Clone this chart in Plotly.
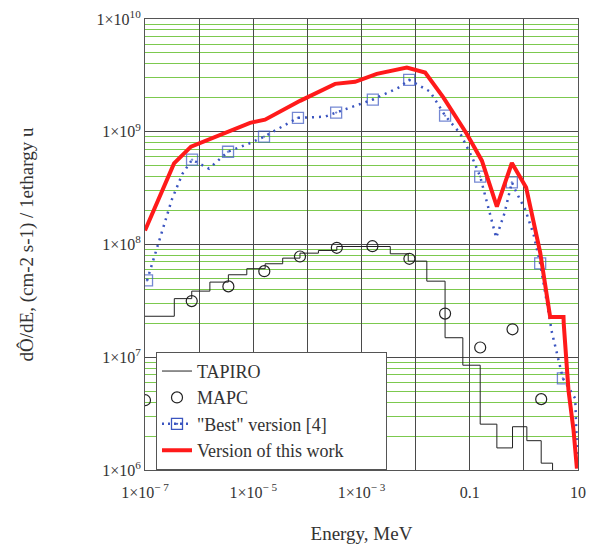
import plotly.graph_objects as go

# ---------------- data ----------------
# "Version of this work" (red solid)
red_E = [1.0e-7, 3.44e-7, 7.08e-7, 2.88e-6, 8.73e-6, 1.65e-5, 7.33e-5, 3.25e-4, 7.62e-4,
         1.92e-3, 6.87e-3, 0.015, 0.0327, 0.0883, 0.1675, 0.317, 0.6, 1.1, 2.0, 3.06,
         5.4, 5.45, 6.67, 8.26, 9.55]
red_V = [1.33e8, 5.24e8, 7.37e8, 9.6e8, 1.2e9, 1.28e9, 1.88e9, 2.66e9, 2.77e9,
         3.26e9, 3.71e9, 3.35e9, 2.01e9, 9.55e8, 5.54e8, 2.17e8, 5.28e8, 3.21e8, 8.5e7, 2.27e7,
         2.27e7, 1.99e7, 5.1e6, 2.26e6, 1.03e6]

# "Best" version [4] : dotted curve vertices and square markers
best_line_E = [1.64e-7, 3.12e-7, 4.89e-7, 6.3e-7, 1.52e-6, 9.1e-6, 2.12e-4, 4.75e-3,
               0.0185, 0.0666, 0.1107, 0.308, 0.4375, 0.519, 0.743, 1.06, 1.51, 3.29,
               8.87, 9.66, 9.9]
best_line_V = [9.16e7, 2.49e8, 4.22e8, 5.0e8, 4.71e8, 8.0e8, 1.36e9, 2.45e9,
               2.27e9, 9.66e8, 5.93e8, 1.15e8, 1.89e8, 2.66e8, 2.84e8, 2.04e8, 1.23e8, 1.67e7,
               4.31e6, 1.61e6, 1.0e6]
best_sq_E = [1.09e-7, 7.4e-7, 3.42e-6, 1.58e-5, 6.7e-5, 3.4e-4, 1.62e-3, 7.6e-3,
             0.035, 0.156, 0.6, 2.0, 5.26]
best_sq_V = [4.8e7, 5.65e8, 6.65e8, 9.04e8, 1.33e9, 1.48e9, 1.93e9, 2.88e9,
             1.39e9, 4.0e8, 3.56e8, 6.8e7, 6.5e6]

# TAPIRO (step histogram): bin left edges and values
tap_E = [1.0e-7, 3.48e-7, 7.3e-7, 1.58e-6, 3.47e-6, 7.6e-6, 1.66e-5, 3.5e-5, 7.3e-5,
         1.6e-4, 3.5e-4, 3.4e-3, 7.3e-3, 0.0161, 0.035, 0.0745, 0.156, 0.317, 0.617,
         1.135, 2.09, 3.39, 6.0]
tap_V = [2.31e7, 3.31e7, 3.86e7, 4.64e7, 5.39e7, 6.1e7, 6.75e7, 7.57e7, 8.38e7,
         8.85e7, 9.6e7, 8.27e7, 7.12e7, 4.73e7, 1.49e7, 8.5e6, 2.55e6, 1.57e6, 2.42e6,
         1.82e6, 1.15e6, 8.0e5, 8.0e5]

# MAPC (open circles)
mapc_E = [1.0e-7, 7.3e-7, 3.47e-6, 1.6e-5, 7.3e-5, 3.5e-4, 1.59e-3, 7.67e-3,
          0.035, 0.156, 0.617, 2.09]
mapc_V = [4.16e6, 3.15e7, 4.25e7, 5.8e7, 7.83e7, 9.35e7, 9.66e7, 7.47e7,
          2.44e7, 1.22e7, 1.77e7, 4.25e6]

x_tickvals = [1e-7, 1e-6, 1e-5, 1e-4, 1e-3, 1e-2, 1e-1, 1e0, 1e1]
x_ticktext = ["1×10<sup>− 7</sup>", "", "1×10<sup>− 5</sup>", "", "1×10<sup>− 3</sup>",
              "", "0.1", "", "10"]
y_tickvals = [1e6, 1e7, 1e8, 1e9, 1e10]
y_ticktext = ["1×10<sup>6</sup>", "1×10<sup>7</sup>", "1×10<sup>8</sup>",
              "1×10<sup>9</sup>", "1×10<sup>10</sup>"]

# ---------------- figure ----------------
FONT = "Liberation Serif, Times New Roman, serif"
GREEN = "#7cc94e"
MAJOR = "#4a4a4a"
BLUE = "#3b55c0"
TXT = "#333333"
PAD = "<span style='color:rgba(255,255,255,0)'>____</span>"

# merge best curve vertices and squares
pts = [(e, v, False) for e, v in zip(best_line_E, best_line_V)] + \
      [(e, v, True) for e, v in zip(best_sq_E, best_sq_V)]
pts.sort(key=lambda p: p[0])
best_E = [p[0] for p in pts]
best_V = [p[1] for p in pts]
best_sym = ["square-open-dot" if p[2] else "circle" for p in pts]
best_size = [11 if p[2] else 0 for p in pts]

fig = go.Figure()

fig.add_trace(go.Scatter(
    x=tap_E, y=tap_V, mode="lines", name="TAPIRO",
    line=dict(color="#222222", width=1, shape="hv"),
))
fig.add_trace(go.Scatter(
    x=mapc_E, y=mapc_V, mode="markers", name="MAPC",
    marker=dict(symbol="circle-open", size=11, color="#222222", line=dict(width=1.2)),
))
fig.add_trace(go.Scatter(
    x=best_E, y=best_V, mode="lines+markers", name="\"Best\" version [4]",
    showlegend=False, legendgroup="best",
    line=dict(color=BLUE, width=2.5, dash="2px,5px"),
    marker=dict(symbol=best_sym, size=best_size, color=BLUE, line=dict(width=1.3, color=BLUE)),
))
# legend entry for the "Best" curve (dotted line with squares)
fig.add_trace(go.Scatter(
    x=[None], y=[None], mode="lines+markers", name="\"Best\" version [4]",
    legendgroup="best",
    line=dict(color=BLUE, width=2.5, dash="2px,4px"),
    marker=dict(symbol="square-open-dot", size=11, color=BLUE, line=dict(width=1.3, color=BLUE)),
))
fig.add_trace(go.Scatter(
    x=red_E, y=red_V, mode="lines", name="Version of this work" + PAD,
    line=dict(color="#ff1a1a", width=4),
))

fig.update_layout(
    width=592, height=547,
    margin=dict(l=145, r=14, t=19, b=77),
    paper_bgcolor="white", plot_bgcolor="white",
    font=dict(family=FONT, size=16, color=TXT),
    showlegend=True,
    legend=dict(
        x=0.0254, y=0.262, xanchor="left", yanchor="top",
        bgcolor="white", bordercolor="#555555", borderwidth=1,
        font=dict(family=FONT, size=18, color=TXT),
        tracegroupgap=0,
    ),
)

fig.update_xaxes(
    type="log", range=[-7, 1],
    tickmode="array", tickvals=x_tickvals, ticktext=x_ticktext,
    showgrid=True, gridcolor=MAJOR, gridwidth=1,
    showline=True, linecolor="#555555", linewidth=1, mirror=True,
    ticks="", zeroline=False, ticklabelstandoff=8,
    tickfont=dict(family=FONT, size=16, color=TXT),
    title=dict(text="Energy, MeV", font=dict(family=FONT, size=19, color=TXT), standoff=26),
    automargin=False,
)
fig.update_yaxes(
    type="log", range=[6, 10],
    tickmode="array", tickvals=y_tickvals, ticktext=y_ticktext,
    showgrid=True, gridcolor=MAJOR, gridwidth=1,
    minor=dict(tickvals=[k * 10 ** n for n in range(6, 10) for k in range(2, 10)],
               showgrid=True, gridcolor=GREEN, gridwidth=1.3, ticks=""),
    showline=True, linecolor="#555555", linewidth=1, mirror=True,
    ticks="", zeroline=False,
    tickfont=dict(family=FONT, size=16, color=TXT),
    title=dict(text="dÔ/dE, (cm-2 s-1) / 1ethargy u",
               font=dict(family=FONT, size=19, color=TXT), standoff=57),
    automargin=False,
)

fig.write_html("out.html", config={"displayModeBar": False},
               post_script="document.body.style.margin='0px';")
